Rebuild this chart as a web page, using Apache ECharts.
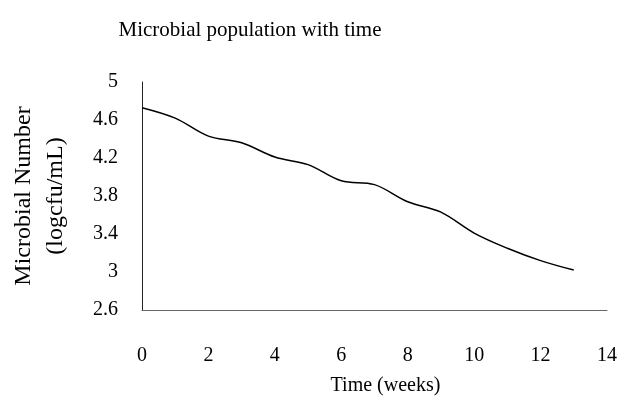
<!DOCTYPE html>
<html>
<head>
<meta charset="utf-8">
<script src="https://cdn.jsdelivr.net/npm/echarts@6/dist/echarts.min.js"></script>
<style>
  html, body { margin: 0; padding: 0; background: #fff; }
  #main { width: 630px; height: 412px; }
</style>
</head>
<body>
<div id="main"></div>
<script>
'use strict'

// weeks and microbial counts (logcfu/mL)
const weeks = [0, 1, 2, 3, 4, 5, 6, 7, 8, 9, 10, 11, 12, 13];
const counts = [4.73, 4.62, 4.43, 4.36, 4.21, 4.13, 3.96, 3.92, 3.74, 3.63, 3.41, 3.25, 3.12, 3.02];
const xTicks = [0, 2, 4, 6, 8, 10, 12, 14];
const yTicks = [2.6, 3, 3.4, 3.8, 4.2, 4.6, 5];

const serif = '"Liberation Serif", "DejaVu Serif", serif';
let myChart = echarts.init(document.getElementById('main'));

myChart.setOption({
    backgroundColor: '#fff',
    animation: false,
    title: {
        text: 'Microbial population with time',
        left: 245,
        top: 15,
        textAlign: 'center',
        textStyle: {
            fontFamily: serif,
            fontWeight: 'normal',
            fontSize: 21,
            color: '#000'
        }
    },
    grid: { left: 142, right: 23, top: 82, bottom: 102, outerBoundsMode: 'none', containLabel: false },
    xAxis: {
        type: 'value',
        min: xTicks[0],
        max: xTicks[xTicks.length - 1],
        interval: 2,
        name: 'Time (weeks)',
        nameLocation: 'middle',
        nameGap: 66,
        nameTextStyle: {
            fontFamily: serif,
            fontSize: 20,
            color: '#000',
            padding: [0, 0, 0, 22]
        },
        axisLine: { lineStyle: { color: '#666', width: 1 } },
        axisTick: { show: false },
        splitLine: { show: false },
        axisLabel: {
            margin: 36,
            fontFamily: serif,
            fontSize: 20,
            color: '#000'
        }
    },
    yAxis: {
        type: 'value',
        min: yTicks[0],
        max: yTicks[yTicks.length - 1],
        interval: 0.4,
        name: 'Microbial Number\n(logcfu/mL)',
        nameLocation: 'middle',
        nameGap: 70,
        nameTextStyle: {
            fontFamily: serif,
            fontSize: 24,
            lineHeight: 32,
            color: '#000'
        },
        axisLine: { show: true, lineStyle: { color: '#222', width: 1 } },
        axisTick: { show: false },
        splitLine: { show: false },
        axisLabel: {
            margin: 24,
            fontFamily: serif,
            fontSize: 20,
            color: '#000',
            formatter: v => String(+v.toFixed(1))
        }
    },
    series: [{
        type: 'line',
        smooth: 0.35,
        showSymbol: false,
        data: weeks.map((w, i) => [w, counts[i]]),
        lineStyle: { color: '#000', width: 1.5 }
    }]
});
</script>
</body>
</html>
